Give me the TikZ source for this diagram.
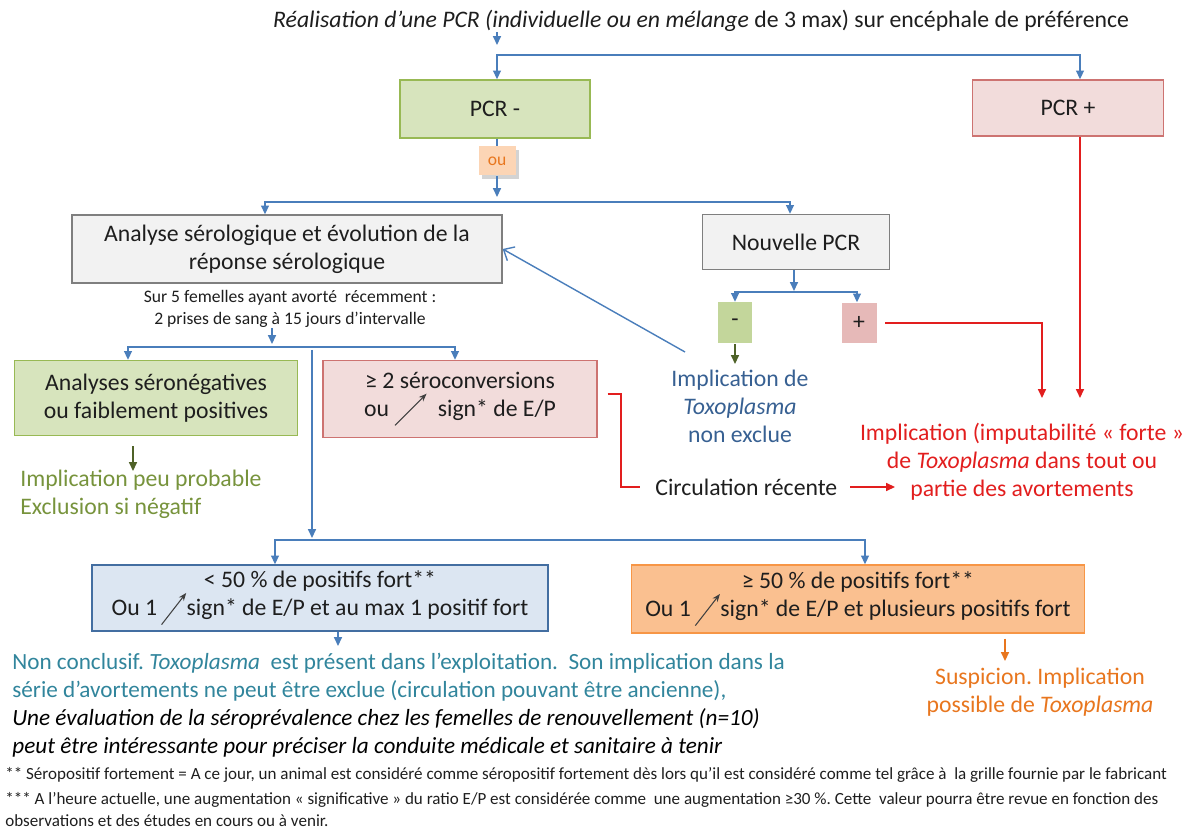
\documentclass[tikz,border=0pt]{standalone}
\usepackage{fontspec}
\setmainfont{Carlito}
\usepackage{xcolor}
\usepackage{tikz}
\usetikzlibrary{positioning, calc, arrows.meta, shadows}
\definecolor{linkblue}{RGB}{74,126,187}
\definecolor{greenfill}{RGB}{215,228,189}
\definecolor{greenline}{RGB}{152,185,84}
\definecolor{minusfill}{RGB}{195,214,155}
\definecolor{redfill}{RGB}{242,220,219}
\definecolor{redline}{RGB}{192,80,77}
\definecolor{plusfill}{RGB}{230,185,184}
\definecolor{grayfill}{RGB}{242,242,242}
\definecolor{grayline}{RGB}{127,127,127}
\definecolor{bluefill}{RGB}{220,230,242}
\definecolor{blueline}{RGB}{79,129,189}
\definecolor{orangefill}{RGB}{250,192,144}
\definecolor{orangeline}{RGB}{247,150,70}
\definecolor{oufill}{RGB}{252,213,181}
\definecolor{textorange}{RGB}{232,118,30}
\definecolor{textolive}{RGB}{119,147,60}
\definecolor{arrolive}{RGB}{79,98,40}
\definecolor{textblue}{RGB}{55,96,146}
\definecolor{textred}{RGB}{226,30,30}
\definecolor{textteal}{RGB}{49,133,156}
\definecolor{textdark}{RGB}{30,30,30}

\newcommand{\boxsize}{\fontsize{13.5}{16}\selectfont}
\newcommand{\subsize}{\fontsize{10}{12.5}\selectfont}
\newcommand{\notesize}{\fontsize{9.7}{12.5}\selectfont}
\newcommand{\signup}[1][18pt]{\tikz[baseline=0pt]\draw[black!75, line width=0.6pt, -{Stealth[length=4.5pt, width=3.5pt]}] (0pt,-5pt) -- (#1,13pt);}

\tikzset{
    box/.style={draw, rectangle, align=center, font=\boxsize, text=textdark, line width=0.8pt, inner sep=2pt},
    greenbox/.style={box, fill=greenfill, draw=greenline},
    redbox/.style={box, fill=redfill, draw=redline!80},
    graybox/.style={box, fill=grayfill, draw=grayline},
    bluebox/.style={box, fill=bluefill, draw=blueline!85!black},
    orangebox/.style={box, fill=orangefill, draw=orangeline},
    label/.style={align=center, font=\boxsize, inner sep=0pt},
    link/.style={draw=linkblue, line width=0.8pt},
    arr/.style={link, -{Triangle[length=5pt, width=4.5pt]}},
    fork/.style={link, {Triangle[length=5pt, width=4.5pt]}-{Triangle[length=5pt, width=4.5pt]}},
    redlink/.style={draw=textred, line width=0.8pt},
    redarr/.style={redlink, -{Triangle[length=5pt, width=4.5pt]}},
    olivearr/.style={draw=arrolive, line width=0.8pt, -{Triangle[length=5pt, width=4.5pt]}},
    orangearr/.style={draw=textorange, line width=0.8pt, -{Triangle[length=5pt, width=4.5pt]}}
}

\begin{document}
\frenchspacing
\begin{tikzpicture}[x=0.02cm, y=-0.02cm]
        \useasboundingbox (0,0) rectangle (1197,830);

        \node[label, font=\fontsize{13.5}{16}\selectfont, text=textdark] (title) at (701,21)
            {\textit{Réalisation d’une PCR (individuelle ou en mélange} de 3 max) sur encéphale de préférence};

        \node[greenbox, minimum width=3.8cm, minimum height=1.16cm] (pcrm) at (495,109) {PCR -};
        \node[redbox, minimum width=3.82cm, minimum height=1.12cm] (pcrp) at (1068,108) {PCR +};
        \node[box, fill=oufill, draw=none, drop shadow={shadow xshift=2pt, shadow yshift=-2pt, opacity=0.35},
            text=textorange, font=\fontsize{10}{12}\selectfont, minimum width=0.74cm, minimum height=0.58cm] (ou) at (497,161) {ou};

        \node[graybox, minimum width=8.6cm, minimum height=1.36cm] (analyse) at (287,249)
            {Analyse sérologique et évolution de la\\réponse sérologique};
        \node[graybox, minimum width=3.74cm, minimum height=1.1cm] (nouv) at (796,242) {Nouvelle PCR};

        \node[label, font=\subsize, text=textdark] (subtxt) at (290,309)
            {Sur 5 femelles ayant avorté\ \ récemment :\\2 prises de sang à 15 jours d’intervalle};

        \node[greenbox, minimum width=5.66cm, minimum height=1.5cm] (green) at (156,398)
            {Analyses séronégatives\\ou faiblement positives};
        \node[redbox, minimum width=5.48cm, minimum height=1.54cm] (red) at (460,399)
            {≥ 2 séroconversions\\ou \signup\ \ sign* de E/P};

        \node[box, fill=minusfill, draw=none, minimum width=0.68cm, minimum height=0.82cm] (minus) at (735,323) {-};
        \node[box, fill=plusfill, draw=none, minimum width=0.7cm, minimum height=0.8cm] (plus) at (859,323) {+};

        \node[label, text=textblue] (implde) at (740,406)
            {Implication de\\\textit{Toxoplasma}\\non exclue};
        \node[label, text=textdark, anchor=west] (circ) at (655,487) {Circulation récente};
        \node[label, text=textred] (forte) at (1022,462)
            {Implication (imputabilité « forte »\\de \textit{Toxoplasma} dans tout ou\\partie des avortements};

        \node[label, text=textolive, align=left, anchor=west] (peu) at (20,494)
            {Implication peu probable\\Exclusion si négatif};

        \node[bluebox, minimum width=9.12cm, minimum height=1.32cm] (blue) at (320,598)
            {< 50 \% de positifs fort**\\Ou 1\,\signup[14pt]sign* de E/P et au max 1 positif fort};
        \node[orangebox, minimum width=9.06cm, minimum height=1.36cm] (orange) at (858,599)
            {≥ 50 \% de positifs fort**\\Ou 1\,\signup[14pt]sign* de E/P et plusieurs positifs fort};

        \node[label, align=left, anchor=west, font=\fontsize{13.2}{15.9}\selectfont] (nonc) at (12,705)
            {\textcolor{textteal}{Non conclusif. \textit{Toxoplasma}\ \ est présent dans l’exploitation.\ \ Son implication dans la}\\
             \textcolor{textteal}{série d’avortements ne peut être exclue (circulation pouvant être ancienne),}\\
             \textit{Une évaluation de la séroprévalence chez les femelles de renouvellement (n=10)}\\
             \textit{peut être intéressante pour préciser la conduite médicale et sanitaire à tenir}};
        \node[label, text=textorange] (susp) at (1040,692)
            {Suspicion. Implication\\possible de \textit{Toxoplasma}};

        \node[label, align=left, anchor=north west, font=\notesize, text=textdark] (notes) at (5,767)
            {** Séropositif fortement = A ce jour, un animal est considéré comme séropositif fortement dès lors qu’il est considéré comme tel grâce à\ \ la grille fournie par le fabricant\\[1.5pt]
             *** A l’heure actuelle, une augmentation « significative » du ratio E/P est considérée comme\ \ une augmentation ≥30 \%. Cette\ \ valeur pourra être revue en fonction des\\
             observations et des études en cours ou à venir.};

        \coordinate (t1) at (497,45);
        \coordinate (s1l) at (497,55);
        \coordinate (s1r) at (1080,55);
        \draw[arr] (title.south -| t1) -- (t1);
        \draw[fork] (pcrm.north -| s1l) -- (s1l) -- (s1r) -- (pcrp.north -| s1r);

        \draw[link] (pcrm.south -| ou.north) -- (ou.north);
        \coordinate (t2) at (497,197);
        \coordinate (s2l) at (265,202);
        \coordinate (s2r) at (790,202);
        \draw[arr] (ou.south) -- (t2);
        \draw[fork] (analyse.north -| s2l) -- (s2l) -- (s2r) -- (nouv.north -| s2r);

        \coordinate (t3) at (272,344);
        \coordinate (s3l) at (128,347);
        \coordinate (s3r) at (455,347);
        \draw[arr] (subtxt.south -| t3) -- (t3);
        \draw[fork] (green.north -| s3l) -- (s3l) -- (s3r) -- (red.north -| s3r);

        \coordinate (v1) at (312,350);
        \coordinate (v2) at (312,538);
        \coordinate (s4l) at (275,540);
        \coordinate (s4r) at (865,540);
        \draw[arr] (v1) -- (v2);
        \draw[fork] (blue.north -| s4l) -- (s4l) -- (s4r) -- (orange.north -| s4r);

        \coordinate (t5) at (794,291);
        \coordinate (s5l) at (735,292);
        \coordinate (s5r) at (857,292);
        \draw[arr] (nouv.south -| t5) -- (t5);
        \draw[fork] (minus.north -| s5l) -- (s5l) -- (s5r) -- (plus.north -| s5r);

        \coordinate (m1) at (735,364);
        \draw[olivearr] (minus.south) -- (m1);
        \coordinate (b1) at (685,352);
        \draw[link, -{Straight Barb[length=5pt, width=9pt]}] (b1) -- (analyse.east);

        \coordinate (r1) at (1042,398);
        \coordinate (r2) at (1080,398);
        \draw[redarr, shorten <=0.16cm] (plus.east) -| (r1);
        \draw[redarr] (pcrp.south -| r2) -- (r2);
        \coordinate (k1) at (621,394);
        \draw[redlink, shorten <=0.2cm, shorten >=0.3cm] (red.east |- k1) -- (k1) |- (circ.west);
        \coordinate (r3) at (895,487);
        \draw[redarr, shorten <=0.25cm] (circ.east) -- (r3);

        \coordinate (g1) at (133,471);
        \draw[olivearr, shorten <=0.2cm] (green.south -| g1) -- (g1);
        \coordinate (bl1) at (338,646);
        \draw[arr] (blue.south -| bl1) -- (bl1);
        \coordinate (o1) at (1005,661);
        \draw[orangearr, shorten <=0.1cm] (orange.south -| o1) -- (o1);
    \end{tikzpicture}
\end{document}
